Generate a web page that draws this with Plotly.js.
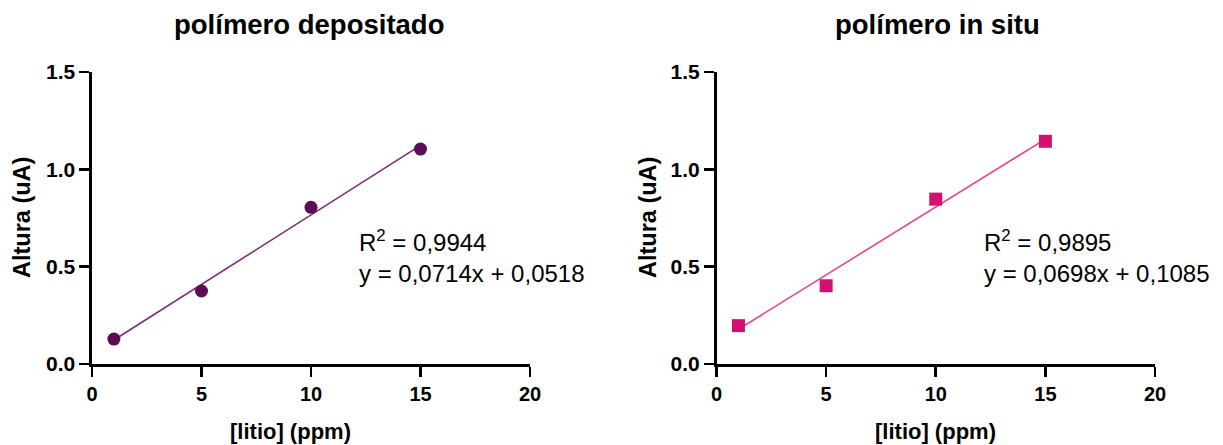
<!DOCTYPE html>
<html>
<head>
<meta charset="utf-8">
<script src="https://cdn.plot.ly/plotly-3.0.1.min.js"></script>
<style>html,body{margin:0;padding:0;background:#fff;}#chart{width:1223px;height:445px;}</style>
</head>
<body>
<div id="chart"></div>
<script>
// ---- data ----
const concLitio = [1, 5, 10, 15];
const alturaDepositado = [0.128, 0.375, 0.805, 1.104];
const alturaInSitu = [0.197, 0.402, 0.847, 1.144];
const fitX = [1, 15];
const fitDepositadoY = [0.1232, 1.1228];   // y = 0,0714x + 0,0518
const fitInSituY = [0.1783, 1.1555];       // y = 0,0698x + 0,1085
const panelTitles = ["polímero depositado", "polímero in situ"];
const r2Labels = ["R<sup>2</sup> = 0,9944", "R<sup>2</sup> = 0,9895"];
const eqLabels = ["y = 0,0714x + 0,0518", "y = 0,0698x + 0,1085"];
const xTicks = [0, 5, 10, 15, 20];
const yTicks = [0, 0.5, 1.0, 1.5];
const xLabel = "[litio] (ppm)";
const yLabel = "Altura (uA)";

const W = 1223, H = 445;
const colDep = "#5c0b55", colDepLine = "#7d2d74";
const colIns = "#d3106e", colInsLine = "#e4488d";
const FONT = "Liberation Sans, Arial, sans-serif";

const traces = [
  {x: fitX, y: fitDepositadoY, mode: "lines", line: {color: colDepLine, width: 1.6}, xaxis: "x", yaxis: "y", hoverinfo: "skip", cliponaxis: false},
  {x: concLitio, y: alturaDepositado, mode: "markers", marker: {symbol: "circle", size: 13, color: colDep}, xaxis: "x", yaxis: "y", cliponaxis: false},
  {x: fitX, y: fitInSituY, mode: "lines", line: {color: colInsLine, width: 1.6}, xaxis: "x2", yaxis: "y2", hoverinfo: "skip", cliponaxis: false},
  {x: concLitio, y: alturaInSitu, mode: "markers", marker: {symbol: "square", size: 13, color: colIns}, xaxis: "x2", yaxis: "y2", cliponaxis: false}
];

const px = v => v / W, py = v => 1 - v / H;

function xax(dom, anchor) {
  return {domain: dom, anchor: anchor, range: [0, 20], tickvals: xTicks, ticktext: xTicks.map(String),
    showline: true, linecolor: "#000", linewidth: 2.6, ticks: "outside", ticklen: 10, tickwidth: 2.6, tickcolor: "#000",
    showgrid: false, zeroline: false, fixedrange: true,
    tickfont: {family: FONT, size: 20, color: "#000", weight: "bold"}};
}
function yax(anchor) {
  return {domain: [py(364), py(72)], anchor: anchor, range: [0, 1.5], tickvals: yTicks, tickformat: ".1f",
    showline: true, linecolor: "#000", linewidth: 2.6, ticks: "outside", ticklen: 10, tickwidth: 2.6, tickcolor: "#000",
    showgrid: false, zeroline: false, fixedrange: true,
    tickfont: {family: FONT, size: 21, color: "#000", weight: "bold"}};
}

const annotations = [];
const titleX = [309, 937], yTitleX = [22, 648], xTitleX = [290, 935];
const axPairs = [["x", "y"], ["x2", "y2"]];
for (let i = 0; i < 2; i++) {
  annotations.push({text: "<b>" + panelTitles[i] + "</b>", xref: "paper", yref: "paper", x: px(titleX[i]), y: py(24),
    xanchor: "center", yanchor: "middle", showarrow: false, font: {family: FONT, size: 27.5, color: "#000"}});
  annotations.push({text: "<b>" + yLabel + "</b>", xref: "paper", yref: "paper", x: px(yTitleX[i]), y: py(218),
    xanchor: "center", yanchor: "middle", textangle: -90, showarrow: false, font: {family: FONT, size: 23.5, color: "#000"}});
  annotations.push({text: "<b>" + xLabel + "</b>", xref: "paper", yref: "paper", x: px(xTitleX[i]), y: py(431),
    xanchor: "center", yanchor: "middle", showarrow: false, font: {family: FONT, size: 22, color: "#000"}});
  annotations.push({text: r2Labels[i] + "<br>" + eqLabels[i], xref: axPairs[i][0], yref: axPairs[i][1], x: 12.1, y: 0.552,
    xanchor: "left", yanchor: "middle", align: "left", showarrow: false, font: {family: FONT, size: 24, color: "#000"}});
}

const layout = {
  width: W, height: H, margin: {l: 0, r: 0, t: 0, b: 0},
  paper_bgcolor: "#fff", plot_bgcolor: "#fff", showlegend: false,
  font: {family: FONT, color: "#000"},
  xaxis: xax([px(92), px(530)], "y"),
  yaxis: yax("x"),
  xaxis2: xax([px(716.5), px(1155)], "y2"),
  yaxis2: yax("x2"),
  annotations: annotations
};

Plotly.newPlot("chart", traces, layout, {staticPlot: true, displayModeBar: false});
</script>
</body>
</html>
